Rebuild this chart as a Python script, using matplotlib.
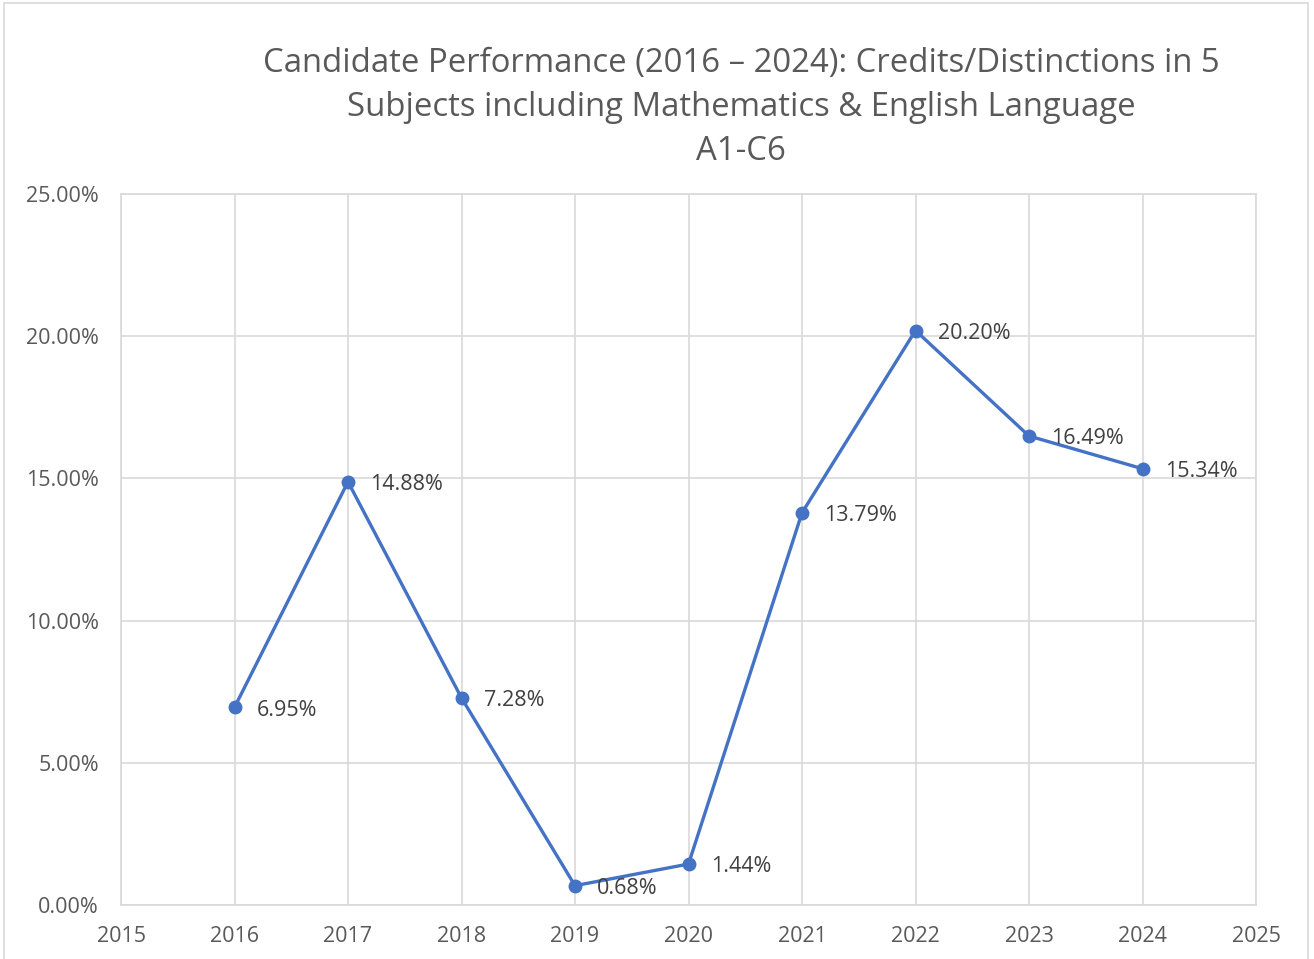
import matplotlib.pyplot as plt
from matplotlib.patches import Rectangle
from matplotlib.ticker import FuncFormatter

years = [2016, 2017, 2018, 2019, 2020, 2021, 2022, 2023, 2024]
pass_rate = [6.95, 14.88, 7.28, 0.68, 1.44, 13.79, 20.20, 16.49, 15.34]
title = ("Candidate Performance (2016 \u2013 2024): Credits/Distinctions in 5\n"
         "Subjects including Mathematics & English Language\nA1-C6")

plt.rcParams['font.family'] = ['Open Sans', 'DejaVu Sans']
grey = "#595959"
blue = "#4472C4"

fig = plt.figure(figsize=(13.14, 9.59), dpi=100)
fig.patches.append(Rectangle((4 / 1314, -0.01), 1304 / 1314, 1 - 3 / 959 + 0.01,
                             transform=fig.transFigure, fill=False,
                             edgecolor="#D9D9D9", linewidth=1.2))
ax = fig.add_axes([121 / 1314, 54 / 959, 1135 / 1314, 711 / 959])

ax.plot(years, pass_rate, color=blue, linewidth=2.4, marker='o', markersize=9,
        zorder=3)
for x, y in zip(years, pass_rate):
    ax.annotate(f"{y:.2f}%", (x, y), xytext=(16, -2), textcoords='offset points',
                ha='left', va='center', fontsize=15.5, color="#404040")

ax.set_xlim(2015, 2025)
ax.set_ylim(0, 25)
ax.set_xticks(range(2015, 2026))
ax.set_yticks([0, 5, 10, 15, 20, 25])
ax.yaxis.set_major_formatter(FuncFormatter(lambda v, p: f"{v:.2f}%"))
ax.grid(True, color="#D9D9D9", linewidth=1.2)
ax.set_axisbelow(True)
for s in ax.spines.values():
    s.set_color("#D9D9D9")
    s.set_linewidth(1.2)
ax.tick_params(length=0, labelsize=15.5, labelcolor=grey, pad=15)
ax.tick_params(axis='y', pad=16)

fig.text(741 / 1314, 1 - 47 / 959, title, ha='center', va='top', fontsize=23.7,
         color=grey, linespacing=1.45)

fig.savefig("out.png", dpi=100, facecolor="white")
